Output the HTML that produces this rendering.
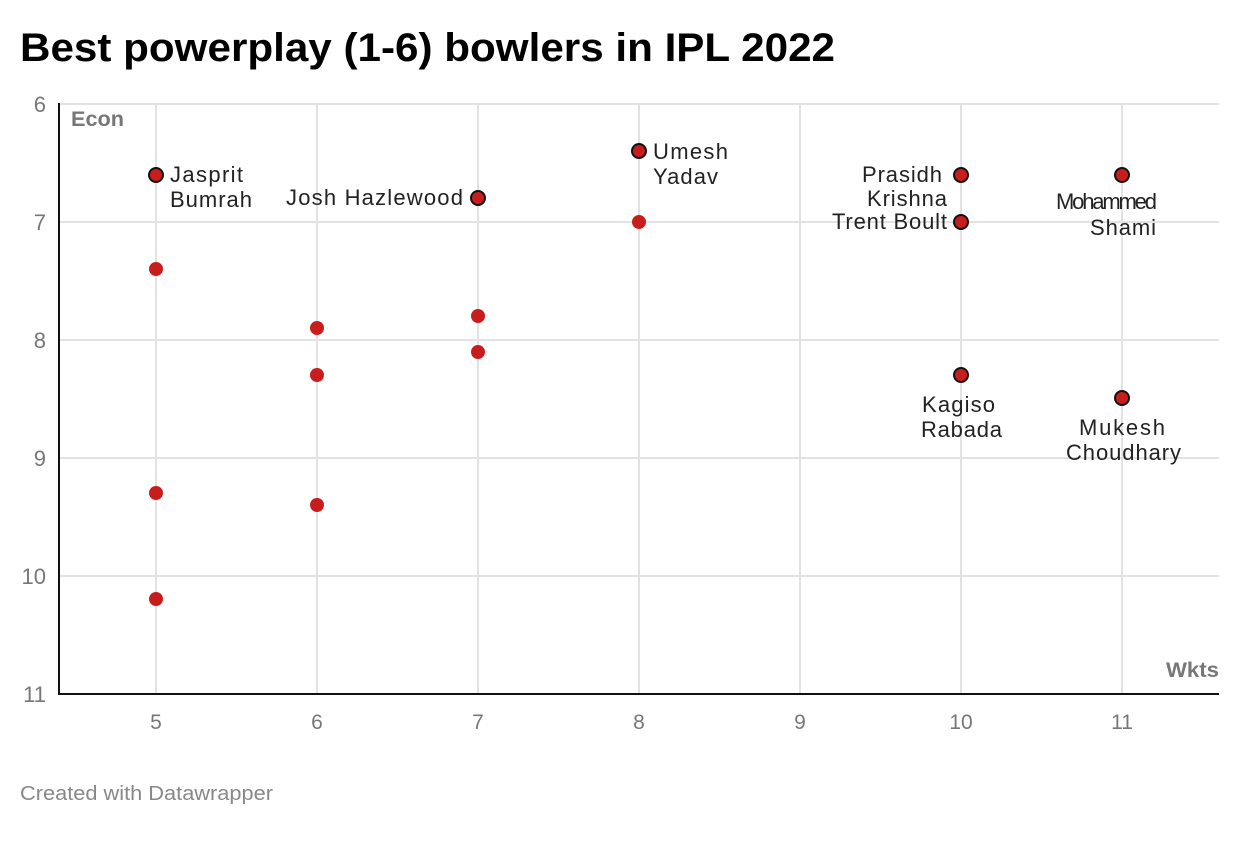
<!DOCTYPE html>
<html><head><meta charset="utf-8"><style>
body{margin:0;background:#fff;width:1240px;height:840px;overflow:hidden}
svg text{font-family:"Liberation Sans",sans-serif}
</style></head><body>
<svg width="1240" height="840" xmlns="http://www.w3.org/2000/svg">
<text x="20" y="61" font-size="40" font-weight="bold" fill="#000" textLength="815" lengthAdjust="spacingAndGlyphs">Best powerplay (1-6) bowlers in IPL 2022</text>
<g stroke="#e2e2e2" stroke-width="2">
<line x1="59" y1="104" x2="1219" y2="104"/><line x1="59" y1="222" x2="1219" y2="222"/>
<line x1="59" y1="340" x2="1219" y2="340"/><line x1="59" y1="458" x2="1219" y2="458"/>
<line x1="59" y1="576" x2="1219" y2="576"/>
<line x1="156" y1="104" x2="156" y2="694"/><line x1="317" y1="104" x2="317" y2="694"/>
<line x1="478" y1="104" x2="478" y2="694"/><line x1="639" y1="104" x2="639" y2="694"/>
<line x1="800" y1="104" x2="800" y2="694"/><line x1="961" y1="104" x2="961" y2="694"/>
<line x1="1122" y1="104" x2="1122" y2="694"/>
</g>
<line x1="59" y1="103" x2="59" y2="695" stroke="#111" stroke-width="2"/>
<line x1="58" y1="694" x2="1219" y2="694" stroke="#111" stroke-width="2"/>
<g font-size="22" fill="#777" text-anchor="end">
<text x="46" y="112">6</text><text x="46" y="230">7</text><text x="46" y="348">8</text>
<text x="46" y="466">9</text><text x="46" y="584">10</text><text x="46" y="702">11</text>
</g>
<g font-size="21" fill="#777" text-anchor="middle">
<text x="156" y="729">5</text><text x="317" y="729">6</text><text x="478" y="729">7</text>
<text x="639" y="729">8</text><text x="800" y="729">9</text><text x="961" y="729">10</text><text x="1122" y="729">11</text>
</g>
<text x="71" y="126" font-size="21" font-weight="bold" fill="#777" textLength="53" lengthAdjust="spacingAndGlyphs">Econ</text>
<text x="1166" y="677" font-size="21" font-weight="bold" fill="#777" textLength="53" lengthAdjust="spacingAndGlyphs">Wkts</text>
<g fill="#c71e1d">
<circle cx="156" cy="269" r="7"/><circle cx="156" cy="493" r="7"/><circle cx="156" cy="599" r="7"/>
<circle cx="317" cy="328" r="7"/><circle cx="317" cy="375" r="7"/><circle cx="317" cy="505" r="7"/>
<circle cx="478" cy="316" r="7"/><circle cx="478" cy="352" r="7"/><circle cx="639" cy="222" r="7"/>
</g>
<g fill="#c71e1d" stroke="#111" stroke-width="2">
<circle cx="156" cy="175" r="7"/><circle cx="478" cy="198" r="7"/><circle cx="639" cy="151" r="7"/>
<circle cx="961" cy="175" r="7"/><circle cx="961" cy="222" r="7"/><circle cx="1122" cy="175" r="7"/>
<circle cx="961" cy="375" r="7"/><circle cx="1122" cy="398" r="7"/>
</g>
<g font-size="22" fill="#222" lengthAdjust="spacingAndGlyphs">
<text x="170" y="182" textLength="73">Jasprit</text><text x="170" y="207" textLength="82">Bumrah</text>
<text x="286" y="205" textLength="177">Josh Hazlewood</text>
<text x="653" y="159" textLength="75">Umesh</text><text x="653" y="184" textLength="65">Yadav</text>
<text x="862" y="182" textLength="80">Prasidh</text>
<text x="867" y="206" textLength="80">Krishna</text>
<text x="832" y="229" textLength="115">Trent Boult</text>
<text x="1056" y="209" textLength="101">Mohammed</text><text x="1090" y="235" textLength="66">Shami</text>
<text x="922" y="412" textLength="73">Kagiso</text><text x="921" y="437" textLength="81">Rabada</text>
<text x="1079" y="435" textLength="86">Mukesh</text><text x="1066" y="460" textLength="115">Choudhary</text>
</g>
<text x="20" y="800" font-size="20" fill="#888" textLength="253" lengthAdjust="spacingAndGlyphs">Created with Datawrapper</text>
</svg>
</body></html>
